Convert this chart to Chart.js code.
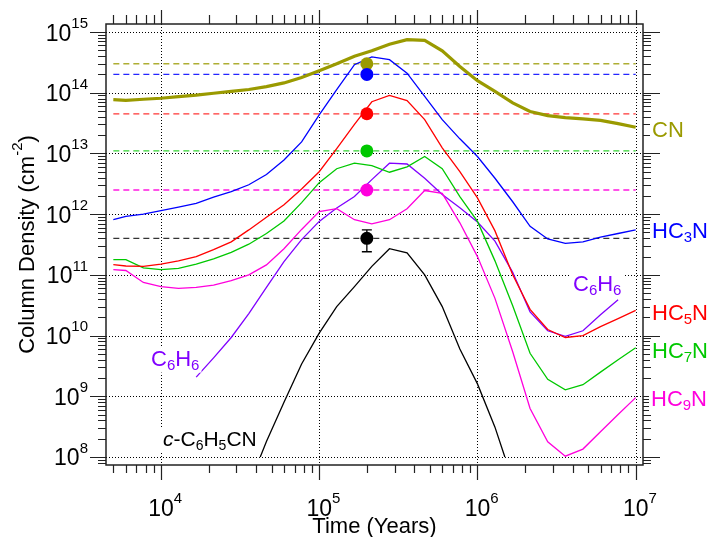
<!DOCTYPE html>
<html><head><meta charset="utf-8">
<script src="https://cdn.jsdelivr.net/npm/chart.js@4.4.1/dist/chart.umd.min.js"></script>
<style>html,body{margin:0;padding:0;background:#fff;}canvas{display:block;}</style>
</head><body>
<canvas id="c" width="709" height="537"></canvas>
<script>
// ---------- DATA ----------
const times = [5000, 6000, 7740, 1.0e4, 1.29e4, 1.67e4, 2.15e4, 2.78e4, 3.59e4, 4.64e4,
  5.99e4, 7.74e4, 1.0e5, 1.29e5, 1.67e5, 2.15e5, 2.78e5, 3.59e5, 4.64e5, 5.99e5,
  7.74e5, 1.0e6, 1.29e6, 1.67e6, 2.15e6, 2.78e6, 3.59e6, 4.64e6, 5.99e6, 7.74e6, 1.0e7];
const cnValues = [7.7e13, 7.5e13, 7.8e13, 8.1e13, 8.6e13, 9.1e13, 9.8e13, 1.05e14, 1.13e14, 1.26e14,
  1.45e14, 1.78e14, 2.3e14, 3.0e14, 4.0e14, 4.9e14, 6.3e14, 7.5e14, 7.3e14, 4.9e14,
  2.7e14, 1.58e14, 1.05e14, 6.8e13, 4.9e13, 4.2e13, 3.9e13, 3.7e13, 3.5e13, 3.1e13, 2.7e13];
const hc3nValues = [8.1e11, 9.2e11, 1.0e12, 1.14e12, 1.3e12, 1.5e12, 1.9e12, 2.35e12, 3.05e12, 4.5e12,
  7.8e12, 1.55e13, 4.3e13, 1.12e14, 2.9e14, 3.9e14, 3.5e14, 2.1e14, 8.7e13, 3.6e13,
  1.74e13, 8.9e12, 3.9e12, 1.6e12, 6.3e11, 3.9e11, 3.3e11, 3.5e11, 4.2e11, 4.8e11, 5.5e11];
const hc5nValues = [1.47e11, 1.4e11, 1.38e11, 1.5e11, 1.7e11, 2.0e11, 2.6e11, 3.5e11, 5.5e11, 8.9e11,
  1.43e12, 2.6e12, 5.0e12, 1.2e13, 3.0e13, 7.1e13, 9.0e13, 7.4e13, 3.6e13, 1.24e13,
  5.0e12, 1.85e12, 5.3e11, 1.0e11, 2.7e10, 1.26e10, 9.3e9, 1.0e10, 1.4e10, 1.9e10, 2.6e10];
const hc7nValues = [1.78e11, 1.78e11, 1.3e11, 1.22e11, 1.28e11, 1.5e11, 1.84e11, 2.35e11, 3.2e11, 4.8e11,
  7.7e11, 1.55e12, 3.3e12, 5.6e12, 6.9e12, 6.3e12, 4.9e12, 6.0e12, 8.9e12, 5.6e12,
  1.95e12, 7.6e11, 1.7e11, 3.1e10, 5.1e9, 1.9e9, 1.28e9, 1.55e9, 2.5e9, 4.0e9, 6.3e9];
const hc9nValues = [1.22e11, 1.18e11, 7.5e10, 6.4e10, 6.0e10, 6.2e10, 6.8e10, 8.0e10, 1.0e11, 1.46e11,
  2.7e11, 5.6e11, 1.1e12, 1.23e12, 8.1e11, 6.9e11, 8.1e11, 1.23e12, 2.45e12, 2.2e12,
  7.2e11, 2.0e11, 4.1e10, 5.4e9, 6.3e8, 1.78e8, 1.03e8, 1.35e8, 2.6e8, 5.0e8, 9.5e8];
const c6h6Values = [null, null, null, null, null, 2.07e9, 4.3e9, 9.3e9, 2.3e10, 6.2e10,
  1.65e11, 3.8e11, 7.6e11, 1.26e12, 1.95e12, 3.7e12, 6.9e12, 6.7e12, 3.9e12, 2.1e12,
  1.27e12, 7.4e11, 3.6e11, 1.1e11, 2.45e10, 1.2e10, 9.7e9, 1.2e10, 2.2e10, 3.9e10, null];
const c6h5cnTimes = [4.24e4, 4.64e4, 5.99e4, 7.74e4, 1.0e5, 1.29e5, 1.67e5, 2.15e5, 2.78e5, 3.59e5,
  4.64e5, 5.99e5, 7.74e5, 1.0e6, 1.29e6, 1.49e6];
const c6h5cnValues = [1.0e8, 1.8e8, 8.0e8, 3.4e9, 1.1e10, 3.0e10, 6.4e10, 1.38e11, 2.7e11, 2.3e11,
  1.0e11, 3.0e10, 6.0e9, 1.6e9, 3.1e8, 1.0e8];
// observed column densities (dots + dashed levels)
const obsTime = 2.0e5;
const obsNames = ['CN', 'HC3N', 'HC5N', 'HC7N', 'HC9N', 'c-C6H5CN'];
const obsValues = [3.0e14, 2.0e14, 4.5e13, 1.1e13, 2.5e12, 4.0e11];
const obsErrLow = [null, null, null, null, null, 2.4e11];
const obsErrHigh = [null, null, null, null, null, 5.5e11];
const levelTimes = [5000, 1.0e7];
// axes
const xRange = [4494, 1.112e7];
const yRange = [7.38e7, 1.355e15];
const xTickValues = [1e4, 1e5, 1e6, 1e7];
const xTickExps = ['4', '5', '6', '7'];
const yTickValues = [1e8, 1e9, 1e10, 1e11, 1e12, 1e13, 1e14, 1e15];
const yTickExps = ['8', '9', '10', '11', '12', '13', '14', '15'];

// ---------- STYLE ----------
const FONT = "'Liberation Sans', Arial, Helvetica, sans-serif";
const COL = {CN: '#9a9a00', HC3N: '#0000ff', HC5N: '#ff0000', HC7N: '#00c800', HC9N: '#ff00dd', C6H6: '#8000ff', BLK: '#000000'};
const LEVEL_COL = ['rgba(154,154,0,0.8)', 'rgba(0,0,255,0.85)', 'rgba(255,0,0,0.8)', 'rgba(0,200,0,0.8)', 'rgba(255,0,221,0.9)', 'rgba(0,0,0,0.8)'];
const DOT_COL = [COL.CN, COL.HC3N, COL.HC5N, COL.HC7N, COL.HC9N, COL.BLK];

function series(xs, ys) {
  const out = [];
  xs.forEach((x, i) => { if (ys[i] !== null) out.push({x: x, y: ys[i]}); });
  return out;
}
function lineDs(data, color, width) {
  return {data, borderColor: color, borderWidth: width, pointRadius: 0, showLine: true, tension: 0, fill: false, order: 1};
}

const datasets = [];
datasets.push({
  data: obsValues.map(v => ({x: obsTime, y: v})),
  showLine: false, pointRadius: 6.5, pointBorderWidth: 0,
  pointBackgroundColor: DOT_COL, pointBorderColor: DOT_COL, order: 0
});
datasets.push(lineDs(series(times, cnValues), COL.CN, 3.2));
datasets.push(lineDs(series(times, hc3nValues), COL.HC3N, 1.3));
datasets.push(lineDs(series(times, hc5nValues), COL.HC5N, 1.3));
datasets.push(lineDs(series(times, hc7nValues), COL.HC7N, 1.3));
datasets.push(lineDs(series(times, hc9nValues), COL.HC9N, 1.3));
datasets.push(lineDs(series(times, c6h6Values), COL.C6H6, 1.3));
datasets.push(lineDs(series(c6h5cnTimes, c6h5cnValues), COL.BLK, 1.3));
obsValues.forEach((v, i) => {
  datasets.push({data: levelTimes.map(t => ({x: t, y: v})), borderColor: LEVEL_COL[i], borderWidth: 1.3,
    borderDash: [6, 4], pointRadius: 0, showLine: true, fill: false, order: 2});
});

function drawRich(ctx, parts, x, y, size, color, align, bg, ratio) {
  const small = Math.round(size * (ratio || 0.68));
  let w = 0;
  const segs = parts.map(p => {
    const sz = p.s ? small : size;
    const f = (p.i ? 'italic ' : '') + sz + 'px ' + FONT;
    ctx.font = f;
    const width = ctx.measureText(p.t).width;
    const dy = p.s === 'sub' ? size * 0.2 : (p.s === 'sup' ? -size * 0.55 : 0);
    w += width;
    return {t: p.t, f, width, dy};
  });
  let sx = align === 'right' ? x - w : (align === 'center' ? x - w / 2 : x);
  if (bg) { ctx.fillStyle = '#fff'; ctx.fillRect(sx - 2, y - size * 0.85, w + 4, size * 1.15); }
  ctx.fillStyle = color; ctx.textAlign = 'left'; ctx.textBaseline = 'alphabetic';
  segs.forEach(s => { ctx.font = s.f; ctx.fillText(s.t, sx, y + s.dy); sx += s.width; });
  return w;
}

const axesPlugin = {
  id: 'customAxes',
  beforeDatasetsDraw(chart) {
    const {ctx, chartArea: a, scales: {x, y}} = chart;
    ctx.save();
    ctx.strokeStyle = '#000'; ctx.lineWidth = 1; ctx.setLineDash([1, 2]);
    xTickValues.forEach(v => {
      const px = Math.round(x.getPixelForValue(v)) + 0.5;
      ctx.beginPath(); ctx.moveTo(px, a.top); ctx.lineTo(px, a.bottom); ctx.stroke();
    });
    yTickValues.forEach(v => {
      const py = Math.round(y.getPixelForValue(v)) + 0.5;
      ctx.beginPath(); ctx.moveTo(a.left, py); ctx.lineTo(a.right, py); ctx.stroke();
    });
    ctx.restore();
  },
  afterDatasetsDraw(chart) {
    const {ctx, chartArea: a, scales: {x, y}} = chart;
    ctx.save();
    obsValues.forEach((v, i) => {
      if (obsErrLow[i] === null) return;
      const px = x.getPixelForValue(obsTime);
      const y1 = y.getPixelForValue(obsErrHigh[i]), y2 = y.getPixelForValue(obsErrLow[i]);
      ctx.strokeStyle = DOT_COL[i]; ctx.lineWidth = 1.3;
      ctx.beginPath(); ctx.moveTo(px, y1); ctx.lineTo(px, y2);
      ctx.moveTo(px - 5, y1); ctx.lineTo(px + 5, y1);
      ctx.moveTo(px - 5, y2); ctx.lineTo(px + 5, y2); ctx.stroke();
    });
    ctx.strokeStyle = '#222'; ctx.lineWidth = 1.2;
    function logTicks(min, max) {
      const out = [];
      for (let e = Math.floor(Math.log10(min)); e <= Math.ceil(Math.log10(max)); e++) {
        for (let m = 1; m <= 9; m++) {
          const v = m * Math.pow(10, e);
          if (v >= min && v <= max) out.push({v, major: m === 1});
        }
      }
      return out;
    }
    logTicks(xRange[0], xRange[1]).forEach(t => {
      const px = Math.round(x.getPixelForValue(t.v)) + 0.5;
      const lb = t.major ? 15 : 8, lt = t.major ? 14 : 9;
      ctx.beginPath();
      ctx.moveTo(px, a.bottom); ctx.lineTo(px, a.bottom + lb);
      ctx.moveTo(px, a.top); ctx.lineTo(px, a.top - lt);
      ctx.stroke();
    });
    logTicks(yRange[0], yRange[1]).forEach(t => {
      const py = Math.round(y.getPixelForValue(t.v)) + 0.5;
      const ll = t.major ? 16 : 8, lr = t.major ? 17 : 8;
      ctx.beginPath();
      ctx.moveTo(a.left, py); ctx.lineTo(a.left - ll, py);
      ctx.moveTo(a.right, py); ctx.lineTo(a.right + lr, py);
      ctx.stroke();
    });
    ctx.strokeStyle = '#222'; ctx.lineWidth = 1.5;
    ctx.strokeRect(a.left, a.top, a.right - a.left, a.bottom - a.top);
    // tick labels
    const T = 23;
    xTickValues.forEach((v, i) => {
      const px = x.getPixelForValue(v);
      ctx.font = T + 'px ' + FONT;
      const w10 = ctx.measureText('10').width;
      drawRich(ctx, [{t: '10'}, {t: xTickExps[i], s: 'sup'}], px - w10 / 2, 516, T, '#000', 'left', false, 0.66);
    });
    yTickValues.forEach((v, i) => {
      const py = y.getPixelForValue(v);
      drawRich(ctx, [{t: '10'}, {t: yTickExps[i], s: 'sup'}], 88, py + 8.5, T, '#000', 'right', false, 0.66);
    });
    // axis titles
    drawRich(ctx, [{t: 'Time (Years)'}], (a.left + a.right) / 2, 533, 22, '#000', 'center');
    ctx.save();
    ctx.translate(34, (a.top + a.bottom) / 2);
    ctx.rotate(-Math.PI / 2);
    drawRich(ctx, [{t: 'Column Density (cm'}, {t: '-2', s: 'sup'}, {t: ')'}], 0, 0, 22, '#000', 'center');
    ctx.restore();
    // series labels
    const L = 22;
    drawRich(ctx, [{t: 'CN'}], 652, 137, L, COL.CN, 'left', true);
    drawRich(ctx, [{t: 'HC'}, {t: '3', s: 'sub'}, {t: 'N'}], 652, 238, L, COL.HC3N, 'left', true);
    drawRich(ctx, [{t: 'HC'}, {t: '5', s: 'sub'}, {t: 'N'}], 652, 320, L, COL.HC5N, 'left', true);
    drawRich(ctx, [{t: 'HC'}, {t: '7', s: 'sub'}, {t: 'N'}], 652, 358, L, COL.HC7N, 'left', true);
    drawRich(ctx, [{t: 'HC'}, {t: '9', s: 'sub'}, {t: 'N'}], 651, 406, L, COL.HC9N, 'left', true);
    drawRich(ctx, [{t: 'C'}, {t: '6', s: 'sub'}, {t: 'H'}, {t: '6', s: 'sub'}], 573, 291, L, COL.C6H6, 'left', true);
    drawRich(ctx, [{t: 'C'}, {t: '6', s: 'sub'}, {t: 'H'}, {t: '6', s: 'sub'}], 151, 366, L, COL.C6H6, 'left', true);
    drawRich(ctx, [{t: 'c', i: true}, {t: '-C'}, {t: '6', s: 'sub'}, {t: 'H'}, {t: '5', s: 'sub'}, {t: 'CN'}], 163, 446, 21, COL.BLK, 'left', true);
    ctx.restore();
  }
};

new Chart(document.getElementById('c'), {
  type: 'scatter',
  data: {datasets},
  options: {
    responsive: false, animation: false, devicePixelRatio: 1, events: [],
    layout: {padding: {left: 106, right: 66, top: 24, bottom: 72}},
    plugins: {legend: {display: false}, tooltip: {enabled: false}},
    scales: {
      x: {type: 'logarithmic', min: xRange[0], max: xRange[1], display: false, bounds: 'data'},
      y: {type: 'logarithmic', min: yRange[0], max: yRange[1], display: false, bounds: 'data'}
    }
  },
  plugins: [axesPlugin]
});
</script>
</body></html>
